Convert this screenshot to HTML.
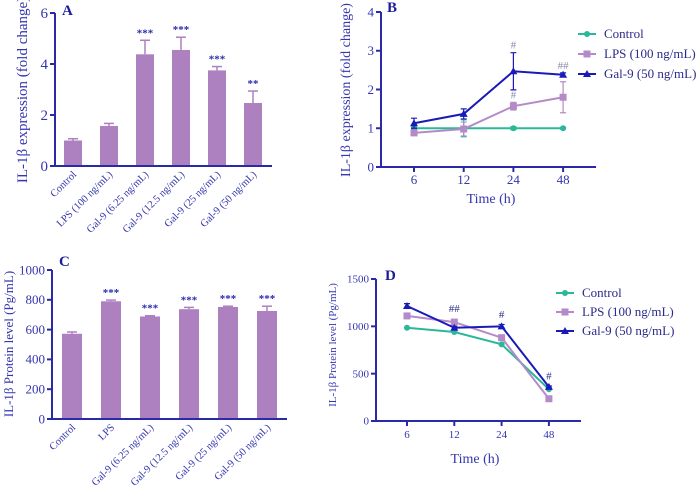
<!DOCTYPE html>
<html><head><meta charset="utf-8"><style>
html,body{margin:0;padding:0;background:#fff;}
svg{display:block;font-family:"Liberation Serif",serif;}
</style></head><body>
<svg id="fig" width="696" height="496" viewBox="0 0 696 496"></svg>
<script>
const NS="http://www.w3.org/2000/svg";
const svg=document.getElementById('fig');
const AX='#2a2aa8', TX='#3535b0', BAR='#ad80c0';
// Panel A data
const aCats=["Control","LPS (100 ng/mL)","Gal-9 (6.25 ng/mL)","Gal-9 (12.5 ng/mL)","Gal-9 (25 ng/mL)","Gal-9 (50 ng/mL)"];
const aVals=[1.0,1.57,4.38,4.55,3.75,2.47];
const aErr=[0.07,0.1,0.55,0.5,0.15,0.47];
const aSig=["","","***","***","***","**"];
const aTicks=[0,2,4,6];
// Panel C data
const cCats=["Control","LPS","Gal-9 (6.25 ng/mL)","Gal-9 (12.5 ng/mL)","Gal-9 (25 ng/mL)","Gal-9 (50 ng/mL)"];
const cVals=[572,790,688,737,752,725];
const cErr=[12,8,5,12,5,32];
const cSig=["","***","***","***","***","***"];
const cTicks=[0,200,400,600,800,1000];
// Panel B data
const times=["6","12","24","48"];
const seriesNames=["Control","LPS (100 ng/mL)","Gal-9 (50 ng/mL)"];
const bControl=[1.0,1.0,1.0,1.0];
const bControlErr=[0.03,0.22,0.04,0.02];
const bLPS=[0.88,0.98,1.57,1.8];
const bLPSErr=[0.03,0.18,0.1,0.4];
const bGal=[1.13,1.37,2.47,2.38];
const bGalErr=[0.13,0.13,0.48,0.05];
const bTicks=[0,1,2,3,4];
// Panel D data
const dControl=[985,940,810,335];
const dLPS=[1110,1045,880,235];
const dGal=[1215,985,1000,360];
const dGalErr=[25,15,20,10];
const dTicks=[0,500,1000,1500];

function el(tag,attrs,text){const e=document.createElementNS(NS,tag);for(const k in attrs)e.setAttribute(k,attrs[k]);if(text!==undefined)e.textContent=text;svg.appendChild(e);return e;}

function yAxis(p,ticks,fs){
  const ln=el('line',{x1:p.x0,y1:p.y(ticks[ticks.length-1]),x2:p.x0,y2:p.y(0),stroke:AX,'stroke-width':2});
  
  ticks.forEach(t=>{
    const tl=el('line',{x1:p.x0-5,y1:p.y(t),x2:p.x0,y2:p.y(t),stroke:AX,'stroke-width':2});
    
    const tx=el('text',{x:p.x0-7,y:p.y(t)+fs*0.33,'text-anchor':'end','font-size':fs,fill:TX},String(t));
    
  });
}
function yTitle(x,cy,txt,fs,id){
  const t=el('text',{x:x,y:cy,transform:`rotate(-90 ${x} ${cy})`,'text-anchor':'middle','font-size':fs,fill:TX},txt);
  
}
function panelLabel(x,y,txt,id){
  const t=el('text',{x:x,y:y,'font-size':15,'font-weight':'bold',fill:'#1c1c9a'},txt);
  
}

function barPanel(p,cats,vals,errs,sigs,ticks){
  yAxis(p,ticks,p.fs);
  vals.forEach((v,i)=>{
    const cx=p.cx(i), top=p.y(v);
    const r=el('rect',{x:cx-p.bw/2,y:top,width:p.bw,height:p.y(0)-top,fill:BAR});
    
    const ey=p.y(v+errs[i]);
    const e1=el('line',{x1:cx,y1:top,x2:cx,y2:ey,stroke:BAR,'stroke-width':1.5});
    
    const e2=el('line',{x1:cx-5,y1:ey,x2:cx+5,y2:ey,stroke:BAR,'stroke-width':1.5});
    
    if(sigs[i]){const s=el('text',{x:cx,y:ey-4,'text-anchor':'middle','font-size':11,'font-weight':'bold',fill:'#2a2ab0'},sigs[i]);
      }
    const lx=cx+4, ly=p.y(0)+9;
    const l=el('text',{x:lx,y:ly,transform:`rotate(-45 ${lx} ${ly})`,'text-anchor':'end','font-size':10.5,fill:TX},cats[i]);
    
  });
  const xa=el('line',{x1:p.x0-1,y1:p.y(0),x2:p.x1,y2:p.y(0),stroke:AX,'stroke-width':2});
  
}

function linePanel(p,series,ticks){
  yAxis(p,ticks,p.fs);
  const xa=el('line',{x1:p.x0-1,y1:p.y(0),x2:p.x1,y2:p.y(0),stroke:AX,'stroke-width':2});
  
  times.forEach((t,i)=>{
    const tl=el('line',{x1:p.cx(i),y1:p.y(0),x2:p.cx(i),y2:p.y(0)+5,stroke:AX,'stroke-width':2});
    
    const tx=el('text',{x:p.cx(i),y:p.y(0)+p.tlOff,'text-anchor':'middle','font-size':p.fs,fill:TX},t);
    
  });
  const xt=el('text',{x:p.tx,y:p.ty,'text-anchor':'middle','font-size':14,fill:TX},'Time (h)');
  
  series.forEach((s,si)=>{
    const pts=s.vals.map((v,i)=>p.cx(i)+','+p.y(v)).join(' ');
    const pl=el('polyline',{points:pts,fill:'none',stroke:s.color,'stroke-width':s.w});
    
    s.vals.forEach((v,i)=>{
      const x=p.cx(i),y=p.y(v);
      if(s.err){const ey=p.y(v+s.err[i]),ey2=p.y(v-s.err[i]);
        const e=el('path',{d:`M${x},${ey2}V${ey}M${x-3},${ey}H${x+3}M${x-3},${ey2}H${x+3}`,stroke:s.color,'stroke-width':1.2,fill:'none'});
        }
      marker(s.shape,x,y,s.color,p.id+'-point-'+s.key);
    });
    const ly=p.ly+si*p.lgap;
    const ll=el('line',{x1:p.lx-9,y1:ly,x2:p.lx+9,y2:ly,stroke:s.color,'stroke-width':s.w});
    
    marker(s.shape,p.lx,ly,s.color,p.id+'-legend-marker');
    const lt=el('text',{x:p.lx+17,y:ly+4,'font-size':13,fill:'#2a2a8a'},seriesNames[si]);
    
  });
}
function marker(shape,x,y,c,name){
  let m;
  if(shape==='c')m=el('circle',{cx:x,cy:y,r:3,fill:c});
  else if(shape==='s')m=el('rect',{x:x-3.5,y:y-3.5,width:7,height:7,fill:c});
  else m=el('path',{d:`M${x},${y-4}L${x+4},${y+3}L${x-4},${y+3}Z`,fill:c});
  
}
function ann(x,y,t,c,name){const a=el('text',{x:x,y:y,'text-anchor':'middle','font-size':11,fill:c},t);
  }

// Panel A
const pA={id:'panel-a',x0:55,x1:272,fs:15,bw:18,y:v=>166-v*(153/6),cx:i=>73+i*36};
barPanel(pA,aCats,aVals,aErr,aSig,aTicks);
yTitle(27,90,'IL-1β expression (fold change)',15,'panel-a-y-axis-title');
panelLabel(62,15,'A','panel-a-label');

// Panel C
const pC={id:'panel-c',x0:52,x1:287,fs:13,bw:20,y:v=>419-v*(149/1000),cx:i=>72+i*39},
  _c=barPanel(pC,cCats,cVals,cErr,cSig,cTicks);
yTitle(13,344,'IL-1β Protein level (Pg/mL)',13,'panel-c-y-axis-title');
panelLabel(59,266,'C','panel-c-label');

// Panel B
const pB={id:'panel-b',x0:381,x1:596,fs:13,y:v=>167-v*(155/4),cx:i=>414+i*49.7,tlOff:17,tx:491,ty:203,lx:587,ly:34,lgap:20};
linePanel(pB,[
 {key:'control',vals:bControl,err:bControlErr,color:'#2bb89a',shape:'c',w:2},
 {key:'lps',vals:bLPS,err:bLPSErr,color:'#b58ac8',shape:'s',w:2},
 {key:'gal9',vals:bGal,err:bGalErr,color:'#1a1ab8',shape:'t',w:2}],bTicks);
yTitle(350,90,'IL-1β expression (fold change)',14,'panel-b-y-axis-title');
panelLabel(387,12,'B','panel-b-label');
ann(pB.cx(2),pB.y(bGal[2]+bGalErr[2])-4,'#','#8a8ab0','panel-b-annotation');
ann(pB.cx(2),pB.y(bLPS[2]+bLPSErr[2])-4,'#','#8a8ab0','panel-b-annotation');
ann(pB.cx(3),pB.y(bGal[3]+bGalErr[3])-4,'##','#8a8ab0','panel-b-annotation');

// Panel D
const pD={id:'panel-d',x0:376,x1:581,fs:11,y:v=>421-v*(142/1500),cx:i=>407+i*47.3,tlOff:17,tx:475,ty:463,lx:565,ly:293,lgap:19};
linePanel(pD,[
 {key:'control',vals:dControl,color:'#2bb89a',shape:'c',w:2},
 {key:'lps',vals:dLPS,color:'#b58ac8',shape:'s',w:2},
 {key:'gal9',vals:dGal,err:dGalErr,color:'#1a1ab8',shape:'t',w:2}],dTicks);
yTitle(336,345,'IL-1β Protein level (Pg/mL)',11,'panel-d-y-axis-title');
panelLabel(385,280,'D','panel-d-label');
ann(pD.cx(1),pD.y(1150),'##','#2a2a8a','panel-d-annotation');
ann(pD.cx(2),pD.y(1090),'#','#2a2a8a','panel-d-annotation');
ann(pD.cx(3),pD.y(440),'#','#2a2a8a','panel-d-annotation');
</script>
</body></html>
